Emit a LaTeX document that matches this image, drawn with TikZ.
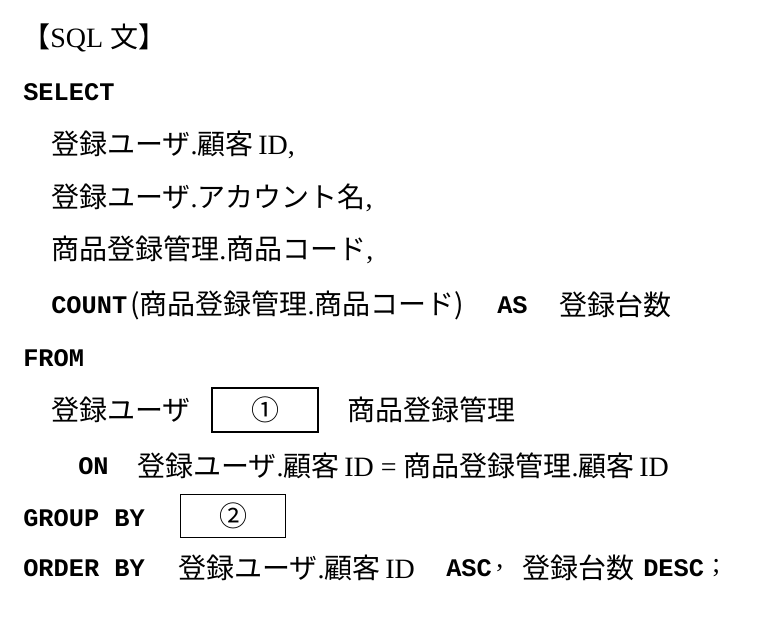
\documentclass[tikz,border=0pt]{standalone}
\usepackage{fontspec}
\setmainfont{Liberation Serif}
\setmonofont{Liberation Mono}
\newfontfamily\jpf{Noto Sans CJK JP}
\newcommand{\jp}[1]{{\jpf #1}}
\begin{document}
\begin{tikzpicture}[x=0.75pt,y=-0.75pt,
  t/.style={anchor=west,inner sep=0pt,font=\fontsize{21}{23}\selectfont},
  kw/.style={anchor=west,inner sep=0pt,font=\fontsize{19}{22}\selectfont\ttfamily\bfseries},
  blank/.style={draw,line width=1pt,inner sep=0pt,font=\fontsize{21}{23}\selectfont}]
\useasboundingbox (0,0) rectangle (762,622);
\node[t] (l1) at (22,38) {\jp{【}SQL \jp{文】}};
\node[kw] (sel) at (23,92) {SELECT};
\node[t] (s1) at (51,145) {\jp{登録ユーザ}.\jp{顧客}\,ID,};
\node[t] (s2) at (51,198) {\jp{登録ユーザ}.\jp{アカウント名},};
\node[t] (s3) at (51,250) {\jp{商品登録管理}.\jp{商品コード},};
\node[kw] (cnt) at (51,305) {COUNT};
\node[t] (cntarg) at (130,305) {\jp{(商品登録管理}.\jp{商品コード)}};
\node[kw] (as) at (497,305) {AS};
\node[t] (alias) at (559,305) {\jp{登録台数}};
\node[kw] (from) at (23,358) {FROM};
\node[t] (u) at (51,410) {\jp{登録ユーザ}};
\node[blank,minimum width=79.5pt,minimum height=33pt] (b1) at (265,410) {\jp{①}};
\node[t] (m) at (347,410) {\jp{商品登録管理}};
\node[kw] (on) at (78,466) {ON};
\node[t] (cond) at (137,466) {\jp{登録ユーザ}.\jp{顧客}\,ID = \jp{商品登録管理}.\jp{顧客}\,ID};
\node[kw] (gb) at (23,518) {GROUP BY};
\node[blank,minimum width=79pt,minimum height=32pt] (b2) at (233,516) {\jp{②}};
\node[kw] (ob) at (23,568) {ORDER BY};
\node[t] (o1) at (178,568) {\jp{登録ユーザ}.\jp{顧客}\,ID};
\node[kw] (asc) at (446,568) {ASC};
\node[t] (cm) at (496,568) {,};
\node[t] (o2) at (522,568) {\jp{登録台数}};
\node[kw] (desc) at (643,568) {DESC};
\node[t] (sc) at (712,568) {;};
\end{tikzpicture}
\end{document}
